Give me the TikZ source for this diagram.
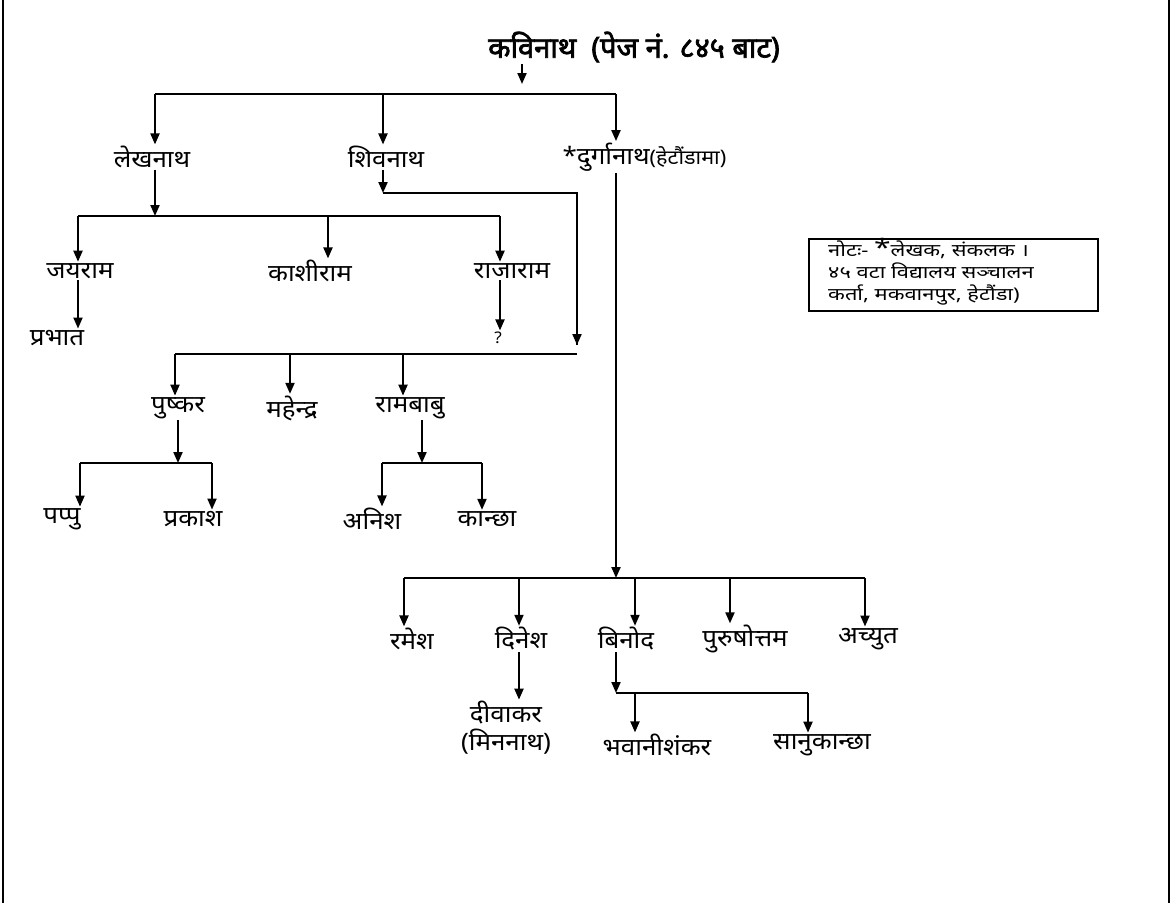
\documentclass[tikz,border=0pt]{standalone}
\usepackage{fontspec}
\usetikzlibrary{arrows.meta}
\newfontfamily\dev[Script=Devanagari,FakeStretch=1.08]{Noto Sans}
\newfontfamily\devnote[Script=Devanagari,FakeStretch=1.25]{Noto Sans}
\newfontfamily\devbold[Script=Devanagari,FakeBold=2.5]{Noto Sans}
\begin{document}
\begin{tikzpicture}[x=1pt,y=-1pt,
  ln/.style={line width=2pt},
  arr/.style={line width=2pt,-{Triangle[length=11pt,width=9pt]}},
  nm/.style={inner sep=1.5pt,font=\dev\fontsize{24}{28}\selectfont},
  tt/.style={inner sep=2pt,font=\devbold\fontsize{29}{32}\selectfont}]
\useasboundingbox (0,0) rectangle (1173,903);
\draw[ln] (3,0) -- (3,903);
\draw[ln] (1169,0) -- (1169,903);
% title
\node[tt] (kavi) at (634,47) {कविनाथ \ (पेज नं. ८४५ बाट)};
\coordinate (k0) at (522,84);
\draw[arr] (k0 |- kavi.south) -- (k0);
% generation 1
\node[nm] (lekh) at (152,157) {लेखनाथ};
\node[nm] (shiv) at (386,157) {शिवनाथ};
\node[nm,anchor=west] (durga) at (561,157) {*दुर्गानाथ{\fontsize{20}{20}\selectfont(हेटौंडामा)}};
\coordinate (h1l) at (155,94);
\coordinate (h1m) at (383,94);
\coordinate (h1r) at (616,94);
\draw[ln] (h1l) -- (h1r);
\draw[arr] (h1l) -- (h1l |- lekh.north);
\draw[arr] (h1m) -- (h1m |- shiv.north);
\draw[arr] (h1r) -- (h1r |- durga.north);
% Lekhnath children
\node[nm] (jaya) at (80,271) {जयराम};
\node[nm] (kashi) at (310,271) {काशीराम};
\node[nm] (raja) at (512,271) {राजाराम};
\coordinate (h2) at (155,216);
\coordinate (h2l) at (78,216);
\coordinate (h2m) at (328,216);
\coordinate (h2r) at (500,216);
\draw[arr] (h2 |- lekh.south) -- (h2);
\draw[ln] (h2l) -- (h2r);
\draw[arr] (h2l) -- (h2l |- jaya.north);
\draw[arr] (h2m) -- (h2m |- kashi.north);
\draw[arr] (h2r) -- (h2r |- raja.north);
\node[nm] (prabhat) at (57,338) {प्रभात};
\node[nm] (q) at (498,338) {\fontsize{16}{18}\selectfont ?};
\draw[arr] (h2l |- jaya.south) -- (h2l |- prabhat.north);
\draw[arr] (h2r |- raja.south) -- (h2r |- q.north);
% Shivnath children
\coordinate (s0) at (383,193);
\coordinate (s1) at (577,193);
\coordinate (s2) at (577,345);
\coordinate (h3r) at (577,354);
\coordinate (h3l) at (175,354);
\coordinate (h3m) at (290,354);
\coordinate (h3n) at (403,354);
\draw[arr] (s0 |- shiv.south) -- (s0);
\draw[ln] (s0) -- (s1) -- (s2);
\draw[arr] (s1) -- (s2);
\draw[ln] (h3l) -- (h3r);
\node[nm] (push) at (178,408) {पुष्कर};
\node[nm] (mahe) at (292,408) {महेन्द्र};
\node[nm] (ramb) at (410,408) {रामबाबु};
\draw[arr] (h3l) -- (h3l |- push.north);
\draw[arr] (h3m) -- (h3m |- mahe.north);
\draw[arr] (h3n) -- (h3n |- ramb.north);
% Pushkar children
\coordinate (p0) at (178,463);
\coordinate (p1) at (80,463);
\coordinate (p2) at (212,463);
\draw[arr] (p0 |- push.south) -- (p0);
\draw[ln] (p1) -- (p2);
\node[nm] (pappu) at (62,519) {पप्पु};
\node[nm] (prak) at (193,519) {प्रकाश};
\draw[arr] (p1) -- (p1 |- pappu.north);
\draw[arr] (p2) -- (p2 |- prak.north);
% Rambabu children
\coordinate (r0) at (422,463);
\coordinate (r1) at (382,463);
\coordinate (r2) at (482,463);
\draw[arr] (r0 |- ramb.south) -- (r0);
\draw[ln] (r1) -- (r2);
\node[nm] (anish) at (372,519) {अनिश};
\node[nm] (kanchha) at (487,519) {कान्छा};
\draw[arr] (r1) -- (r1 |- anish.north);
\draw[arr] (r2) -- (r2 |- kanchha.north);
% Durganath children
\coordinate (d0) at (616,578);
\coordinate (d1) at (404,578);
\coordinate (d2) at (519,578);
\coordinate (d3) at (635,578);
\coordinate (d4) at (730,578);
\coordinate (d5) at (865,578);
\draw[arr] (d0 |- durga.south) -- (d0);
\draw[ln] (d1) -- (d5);
\node[nm] (ramesh) at (412,639) {रमेश};
\node[nm] (dinesh) at (521,639) {दिनेश};
\node[nm] (binod) at (626,639) {बिनोद};
\node[nm] (puru) at (745,639) {पुरुषोत्तम};
\node[nm] (achyut) at (868,639) {अच्युत};
\draw[arr] (d1) -- (d1 |- ramesh.north);
\draw[arr] (d2) -- (d2 |- dinesh.north);
\draw[arr] (d3) -- (d3 |- binod.north);
\draw[arr] (d4) -- (d4 |- puru.north);
\draw[arr] (d5) -- (d5 |- achyut.north);
% Dinesh child
\node[nm,align=center] (diwa) at (506,728) {दीवाकर\\(मिननाथ)};
\draw[arr] (d2 |- dinesh.south) -- (d2 |- diwa.north);
% Binod children
\coordinate (b0) at (616,693);
\coordinate (b1) at (635,693);
\coordinate (b2) at (808,693);
\draw[arr] (b0 |- binod.south) -- (b0);
\draw[ln] (b0) -- (b2);
\node[nm] (bhawa) at (657,745) {भवानीशंकर};
\node[nm] (sanu) at (822,745) {सानुकान्छा};
\draw[arr] (b1) -- (b1 |- bhawa.north);
\draw[arr] (b2) -- (b2 |- sanu.north);
% note box
\node[draw,line width=1.5pt,minimum width=289pt,minimum height=72pt,anchor=north west,inner sep=0pt]
  (note) at (808,238) {};
\node[anchor=west,align=left,inner sep=0pt,font=\devnote\fontsize{17.5}{22}\selectfont]
  (notetext) at (828,273) {नोटः- \smash{\fontsize{24}{22}\selectfont *}लेखक, संकलक ।\\४५ वटा विद्यालय सञ्चालन\\कर्ता, मकवानपुर, हेटौंडा)};
\end{tikzpicture}
\end{document}
